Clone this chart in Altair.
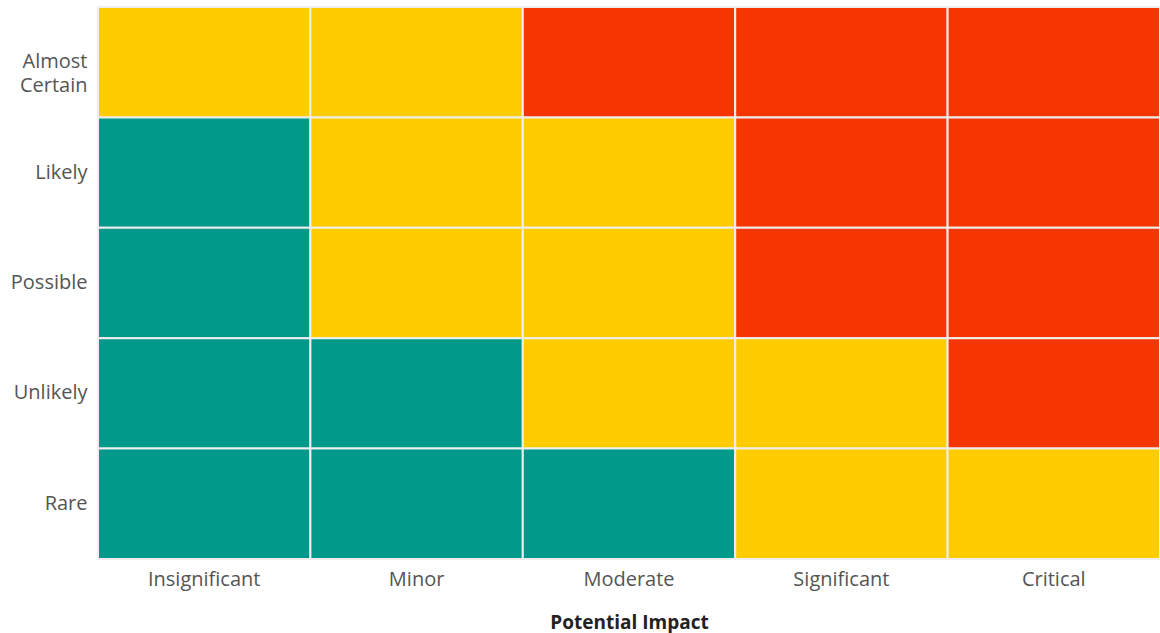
import altair as alt
import pandas as pd

impacts = ["Insignificant", "Minor", "Moderate", "Significant", "Critical"]
likelihoods = ["Almost Certain", "Likely", "Possible", "Unlikely", "Rare"]
levels = [
    ["Medium", "Medium", "High", "High", "High"],
    ["Low", "Medium", "Medium", "High", "High"],
    ["Low", "Medium", "Medium", "High", "High"],
    ["Low", "Low", "Medium", "Medium", "High"],
    ["Low", "Low", "Low", "Medium", "Medium"],
]
level_names = ["Low", "Medium", "High"]
level_colors = ["#00998a", "#ffcc00", "#f53602"]

rows = []
for i, lk in enumerate(likelihoods):
    for j, im in enumerate(impacts):
        rows.append({"Impact": im, "Likelihood": lk, "Level": levels[i][j]})
df = pd.DataFrame(rows)

FONT = "Open Sans"

chart = (
    alt.Chart(df)
    .mark_rect(stroke="#eeeeee", strokeWidth=2)
    .encode(
        x=alt.X(
            "Impact:N",
            sort=impacts,
            title="Potential Impact",
            scale=alt.Scale(paddingInner=0, paddingOuter=0),
            axis=alt.Axis(
                labelAngle=0,
                ticks=False,
                domain=False,
                labelPadding=10,
                labelFontSize=20,
                labelFont=FONT,
                labelColor="#555555",
                titleFont=FONT,
                titleFontSize=19,
                titleFontWeight="bold",
                titleColor="#222222",
                titlePadding=24,
            ),
        ),
        y=alt.Y(
            "Likelihood:N",
            sort=likelihoods,
            title=None,
            scale=alt.Scale(paddingInner=0, paddingOuter=0),
            axis=alt.Axis(
                ticks=False,
                domain=False,
                labelPadding=11,
                labelFontSize=20,
                labelFont=FONT,
                labelColor="#555555",
                labelLineHeight=24,
                labelExpr="datum.label == 'Almost Certain' ? ['Almost', 'Certain'] : datum.label",
            ),
        ),
        color=alt.Color(
            "Level:N",
            scale=alt.Scale(domain=level_names, range=level_colors),
            legend=None,
        ),
    )
    .properties(
        width=1062,
        height=552,
        padding={"left": 98, "top": 7, "right": 0, "bottom": 74},
        autosize=alt.AutoSizeParams(type="none"),
    )
    .configure_view(stroke=None)
)

chart.save("out.html", embed_options={"renderer": "svg", "actions": False})
